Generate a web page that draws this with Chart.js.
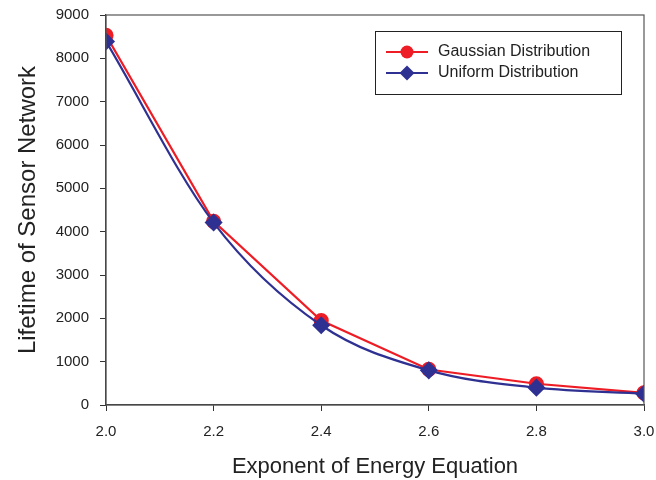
<!DOCTYPE html>
<html>
<head>
<meta charset="utf-8">
<script src="https://cdn.jsdelivr.net/npm/chart.js@4"></script>
<style>
  html, body { margin: 0; padding: 0; background: #fff; }
  #wrap { width: 656px; height: 480px; }
</style>
</head>
<body>
<div id="wrap"><canvas id="life" width="656" height="480"></canvas></div>
<script>
// data
var exponents = [2.0, 2.2, 2.4, 2.6, 2.8, 3.0];
var gaussian = [8530, 4240, 1950, 820, 490, 280];
var uniform  = [8390, 4210, 1840, 800, 400, 260];
var seriesNames = ["Gaussian Distribution", "Uniform Distribution"];

function pts(ys) {
  return exponents.map(function (x, i) { return { x: x, y: ys[i] }; });
}

var RED = '#ee1c24';
var BLUE = '#2e3192';
var AXIS = '#333333';
var FONT = '"Liberation Sans", Arial, sans-serif';

// frame round the plot + legend box inside it
var framePlugin = {
  id: 'frame',
  afterDraw: function (chart) {
    var c = chart.ctx, a = chart.chartArea;
    c.save();
    c.strokeStyle = '#555';
    c.lineWidth = 1.2;
    c.strokeRect(a.left, a.top, a.right - a.left, a.bottom - a.top);

    // legend
    var bx = 375, by = 31, bw = 246, bh = 63;
    c.fillStyle = '#fff';
    c.fillRect(bx, by, bw, bh);
    c.strokeStyle = '#222';
    c.lineWidth = 1;
    c.strokeRect(bx + 0.5, by + 0.5, bw, bh);
    c.font = '16px ' + FONT;
    c.textBaseline = 'middle';
    var rows = [
      { y: by + 21, color: RED, shape: 'circle' },
      { y: by + 42, color: BLUE, shape: 'diamond' }
    ];
    rows.forEach(function (r, i) {
      c.strokeStyle = r.color;
      c.lineWidth = 2;
      c.beginPath();
      c.moveTo(bx + 11, r.y);
      c.lineTo(bx + 53, r.y);
      c.stroke();
      c.fillStyle = r.color;
      c.beginPath();
      if (r.shape === 'circle') {
        c.arc(bx + 32, r.y, 6.5, 0, Math.PI * 2);
      } else {
        c.moveTo(bx + 32, r.y - 7.5);
        c.lineTo(bx + 39.5, r.y);
        c.lineTo(bx + 32, r.y + 7.5);
        c.lineTo(bx + 24.5, r.y);
        c.closePath();
      }
      c.fill();
      c.fillStyle = '#222';
      c.fillText(seriesNames[i], bx + 63, r.y);
    });
    c.restore();
  }
};

var ctx = document.getElementById('life').getContext('2d');
new Chart(ctx, {
  type: 'line',
  data: {
    datasets: [
      {
        label: seriesNames[0],
        data: pts(gaussian),
        order: 2,
        borderColor: RED,
        backgroundColor: RED,
        borderWidth: 2.2,
        pointStyle: 'circle',
        pointRadius: 6.5,
        tension: 0
      },
      {
        label: seriesNames[1],
        data: pts(uniform),
        order: 1,
        borderColor: BLUE,
        backgroundColor: BLUE,
        borderWidth: 2.2,
        pointStyle: 'rectRot',
        pointRadius: 7.5,
        cubicInterpolationMode: 'monotone'
      }
    ]
  },
  options: {
    responsive: false,
    animation: false,
    layout: { padding: { left: 12, right: 12, top: 15, bottom: 0 } },
    plugins: {
      legend: { display: false },
      tooltip: { enabled: false }
    },
    scales: {
      x: {
        type: 'linear',
        min: 2.0,
        max: 3.0,
        afterFit: function (s) {
          s.height = 75;
          s.paddingLeft = 0;
          s.paddingRight = 0;
        },
        afterBuildTicks: function (s) {
          s.ticks = exponents.map(function (v) { return { value: v }; });
        },
        ticks: {
          color: '#222',
          font: { family: FONT, size: 15 },
          padding: 12,
          callback: function (v) { return v.toFixed(1); }
        },
        grid: { drawOnChartArea: false, tickLength: 6, color: AXIS },
        border: { color: AXIS, width: 1.2 },
        title: {
          display: true,
          text: 'Exponent of Energy Equation',
          color: '#222',
          font: { family: FONT, size: 22 },
          padding: { top: 0, bottom: 0 }
        }
      },
      y: {
        min: 0,
        max: 9000,
        afterFit: function (s) {
          s.width = 94;
          s.paddingTop = 0;
        },
        ticks: {
          stepSize: 1000,
          color: '#222',
          font: { family: FONT, size: 15 },
          padding: 11,
          callback: function (v) { return String(v); }
        },
        grid: { drawOnChartArea: false, tickLength: 6, color: AXIS },
        border: { color: AXIS, width: 1.2 },
        title: {
          display: true,
          text: 'Lifetime of Sensor Network',
          color: '#222',
          font: { family: FONT, size: 24 },
          padding: { top: 2, bottom: 0 }
        }
      }
    }
  },
  plugins: [framePlugin]
});
</script>
</body>
</html>
